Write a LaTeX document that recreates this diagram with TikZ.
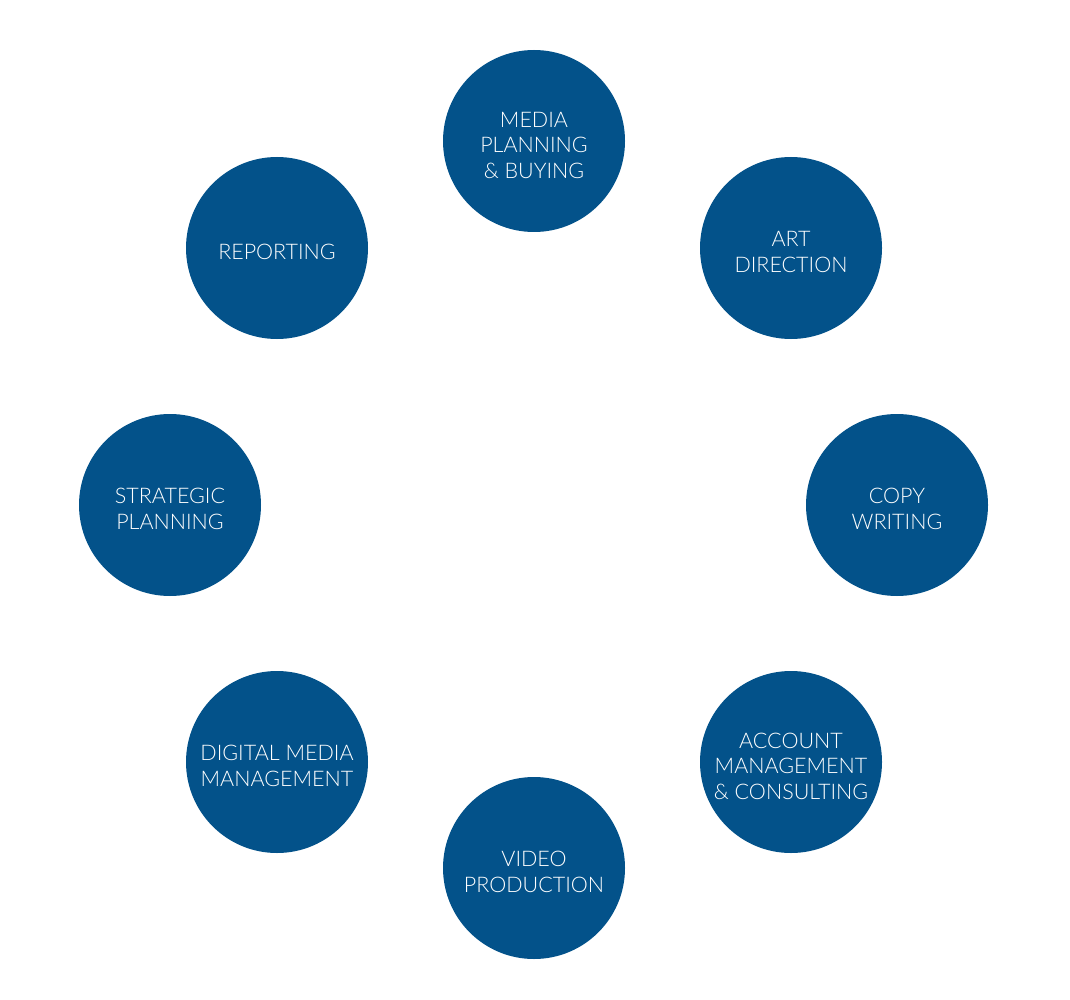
\documentclass[tikz,border=0pt]{standalone}
\usepackage{fontspec}
\setmainfont{Lato Light}
\definecolor{circblue}{HTML}{03528A}
\begin{document}
\begin{tikzpicture}[x=1pt,y=-1pt,
  svc/.style={circle, fill=circblue, draw=none, minimum size=182pt, inner sep=0pt},
  lbl/.style={text=white, align=center, inner sep=0pt, yshift=-4pt,
    font=\fontsize{21.5}{25.5}\selectfont}]
\useasboundingbox (0,0) rectangle (1070,1000);
\node[svc] (media) at (534,141) {};
\node[svc] (art) at (791,248) {};
\node[svc] (copy) at (897,505) {};
\node[svc] (account) at (791,762) {};
\node[svc] (video) at (534,868) {};
\node[svc] (digital) at (277,762) {};
\node[svc] (strategic) at (170,505) {};
\node[svc] (reporting) at (277,248) {};
\node[lbl] (medialbl) at (media.center) {MEDIA\\PLANNING\\\& BUYING};
\node[lbl] (artlbl) at (art.center) {ART\\DIRECTION};
\node[lbl] (copylbl) at (copy.center) {COPY\\WRITING};
\node[lbl] (accountlbl) at (account.center) {ACCOUNT\\MANAGEMENT\\\& CONSULTING};
\node[lbl] (videolbl) at (video.center) {VIDEO\\PRODUCTION};
\node[lbl] (digitallbl) at (digital.center) {DIGITAL MEDIA\\MANAGEMENT};
\node[lbl] (strategiclbl) at (strategic.center) {STRATEGIC\\PLANNING};
\node[lbl] (reportinglbl) at (reporting.center) {REPORTING};
\end{tikzpicture}
\end{document}
